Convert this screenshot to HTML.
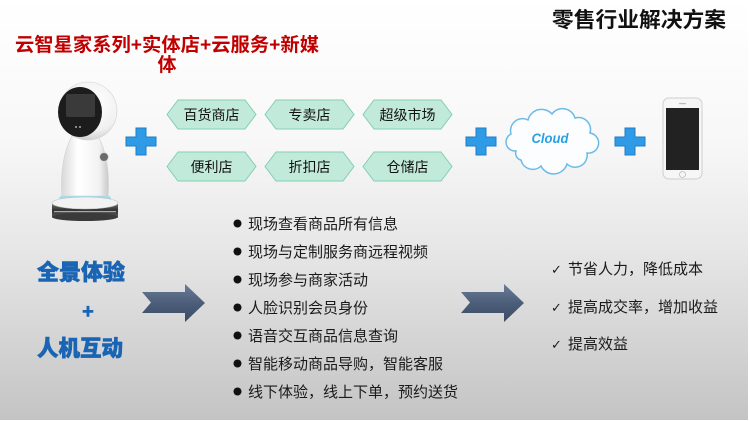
<!DOCTYPE html>
<html><head><meta charset="utf-8"><style>
html,body{margin:0;padding:0;width:750px;height:421px;overflow:hidden;background:#fff}
svg{display:block}
</style></head><body>
<svg width="750" height="421" viewBox="0 0 750 421" xmlns="http://www.w3.org/2000/svg">
<defs>
<linearGradient id="bg" x1="0" y1="0" x2="0" y2="1">
<stop offset="0" stop-color="#ffffff"/><stop offset="0.35" stop-color="#f7f7f7"/><stop offset="0.6" stop-color="#e6e6e6"/><stop offset="1" stop-color="#c4c4c4"/>
</linearGradient>
<linearGradient id="arr" x1="0" y1="0" x2="0" y2="1">
<stop offset="0" stop-color="#6a7c98"/><stop offset="0.5" stop-color="#4c5e7a"/><stop offset="1" stop-color="#3a4a64"/>
</linearGradient>
<radialGradient id="head" cx="0.6" cy="0.35" r="0.7">
<stop offset="0" stop-color="#ffffff"/><stop offset="0.7" stop-color="#f0f0f0"/><stop offset="1" stop-color="#c8c8c8"/>
</radialGradient>
<linearGradient id="body" x1="0" y1="0" x2="1" y2="0">
<stop offset="0" stop-color="#d8d8d8"/><stop offset="0.35" stop-color="#ffffff"/><stop offset="0.8" stop-color="#f2f2f2"/><stop offset="1" stop-color="#c9c9c9"/>
</linearGradient>
<linearGradient id="base" x1="0" y1="0" x2="0" y2="1">
<stop offset="0" stop-color="#777"/><stop offset="0.5" stop-color="#333"/><stop offset="1" stop-color="#555"/>
</linearGradient>
</defs>
<rect x="0" y="0" width="748" height="420" fill="url(#bg)"/>

<!-- Title -->
<text x="552" y="27" font-family="Liberation Sans, Noto Sans CJK SC, sans-serif" font-size="21" font-weight="bold" fill="#111" textLength="174" lengthAdjust="spacingAndGlyphs">零售行业解决方案</text>

<!-- Red title -->
<text x="15" y="51" font-family="Liberation Sans, Noto Sans CJK SC, sans-serif" font-size="19" font-weight="bold" fill="#c00000" textLength="304" lengthAdjust="spacingAndGlyphs">云智星家系列+实体店+云服务+新媒</text>
<text x="167" y="71" text-anchor="middle" font-family="Liberation Sans, Noto Sans CJK SC, sans-serif" font-size="19" font-weight="bold" fill="#c00000">体</text>

<!-- Robot -->
<ellipse cx="85" cy="198" rx="26" ry="5" fill="#9edcf0"/>
<path d="M72,136 C64,150 60,172 62,196 L108,196 C110,172 106,150 98,136 Z" fill="url(#body)" stroke="#d0d0d0" stroke-width="0.6"/>
<circle cx="104" cy="157" r="4.5" fill="#6a6a6a" stroke="#ddd" stroke-width="1"/>
<circle cx="88" cy="111" r="29" fill="url(#head)" stroke="#d4d4d4" stroke-width="0.6"/>
<ellipse cx="80" cy="112" rx="22" ry="25" fill="#1c1c1c"/>
<rect x="66" y="94" width="29" height="23" rx="2" fill="#3a3a3a"/>
<circle cx="76" cy="127" r="1" fill="#aaa"/><circle cx="80" cy="127" r="1" fill="#aaa"/>
<rect x="52" y="203" width="66" height="14" fill="url(#base)"/>
<ellipse cx="85" cy="217" rx="33" ry="4" fill="#3a3a3a"/>
<ellipse cx="85" cy="203" rx="33" ry="6" fill="#f2f2f2" stroke="#bdbdbd" stroke-width="0.6"/>
<rect x="54" y="211" width="62" height="1.2" fill="#aaa"/>

<!-- Plus signs -->
<g fill="#2f9be6" stroke="#1d7ec6" stroke-width="1">
<path d="M136,128 h10 v9 h10 v9 h-10 v9 h-10 v-9 h-10 v-9 h10 Z"/>
<path d="M476,128 h10 v9 h10 v9 h-10 v9 h-10 v-9 h-10 v-9 h10 Z"/>
<path d="M625,128 h10 v9 h10 v9 h-10 v9 h-10 v-9 h-10 v-9 h10 Z"/>
</g>

<!-- Hexagons -->
<g fill="#c2eadb" stroke="#84cdb3" stroke-width="1">
<polygon points="167,114.5 178,100 245,100 256,114.5 245,129 178,129"/>
<polygon points="265,114.5 276,100 343,100 354,114.5 343,129 276,129"/>
<polygon points="363,114.5 374,100 441,100 452,114.5 441,129 374,129"/>
<polygon points="167,166.5 178,152 245,152 256,166.5 245,181 178,181"/>
<polygon points="265,166.5 276,152 343,152 354,166.5 343,181 276,181"/>
<polygon points="363,166.5 374,152 441,152 452,166.5 441,181 374,181"/>
</g>
<g font-family="Liberation Sans, Noto Sans CJK SC, sans-serif" font-size="14" fill="#111" text-anchor="middle">
<text x="211.5" y="120">百货商店</text>
<text x="309.5" y="120">专卖店</text>
<text x="407.5" y="120">超级市场</text>
<text x="211.5" y="172">便利店</text>
<text x="309.5" y="172">折扣店</text>
<text x="407.5" y="172">仓储店</text>
</g>

<!-- Cloud -->
<path d="M516,151 A9,9 0 0 1 511,134 A12,12 0 0 1 528,120 A14,14 0 0 1 552,114 A13,13 0 0 1 575,118 A12,12 0 0 1 590,133 A10,10 0 0 1 587,153 A12,12 0 0 1 567,164 A14,14 0 0 1 541,166 A12,12 0 0 1 521,160 A7,7 0 0 1 516,151 Z" fill="#fbfdff" stroke="#6bbbe8" stroke-width="1.5"/>
<text x="550" y="143" text-anchor="middle" font-family="Liberation Sans, sans-serif" font-size="14" font-weight="bold" font-style="italic" fill="#2aa0e6" textLength="37" lengthAdjust="spacingAndGlyphs">Cloud</text>

<!-- Phone -->
<rect x="663" y="98" width="39" height="81" rx="6" fill="#f6f6f6" stroke="#cfcfcf" stroke-width="1"/>
<rect x="666" y="108" width="33" height="62" fill="#222"/>
<rect x="679" y="103" width="7" height="1.2" fill="#bbb"/>
<circle cx="682.5" cy="174.5" r="3" fill="none" stroke="#bbb" stroke-width="0.8"/>

<!-- Left blue text -->
<g font-family="Liberation Sans, Noto Sans CJK SC, sans-serif" font-weight="900" fill="#1a64b4" stroke="#1a64b4" stroke-width="0.6">
<text x="37" y="280" font-size="22" textLength="88" lengthAdjust="spacingAndGlyphs">全景体验</text>
<text x="88" y="318" font-size="20" text-anchor="middle">+</text>
<text x="37" y="356" font-size="22" textLength="86" lengthAdjust="spacingAndGlyphs">人机互动</text>
</g>

<!-- Arrows -->
<polygon points="142,292 185,292 185,284 205,303 185,322 185,313 142,313 151,302.5" fill="url(#arr)"/>
<polygon points="461,292 504,292 504,284 524,303 504,322 504,313 461,313 470,302.5" fill="url(#arr)"/>

<!-- Bullets -->
<g fill="#111">
<circle cx="237.5" cy="223.5" r="4"/>
<circle cx="237.5" cy="251.5" r="4"/>
<circle cx="237.5" cy="279.5" r="4"/>
<circle cx="237.5" cy="307.5" r="4"/>
<circle cx="237.5" cy="335.5" r="4"/>
<circle cx="237.5" cy="363.5" r="4"/>
<circle cx="237.5" cy="391.5" r="4"/>
</g>
<g font-family="Liberation Sans, Noto Sans CJK SC, sans-serif" font-size="15" fill="#1a1a1a">
<text x="248" y="229">现场查看商品所有信息</text>
<text x="248" y="257">现场与定制服务商远程视频</text>
<text x="248" y="285">现场参与商家活动</text>
<text x="248" y="313">人脸识别会员身份</text>
<text x="248" y="341">语音交互商品信息查询</text>
<text x="248" y="369">智能移动商品导购，智能客服</text>
<text x="248" y="397">线下体验，线上下单，预约送货</text>
</g>

<!-- Checklist -->
<g font-family="Liberation Sans, DejaVu Sans, Noto Sans CJK SC, sans-serif" font-size="15" fill="#1a1a1a">
<text x="551" y="274" font-size="13">✓</text><text x="568" y="274">节省人力，降低成本</text>
<text x="551" y="312" font-size="13">✓</text><text x="568" y="312">提高成交率，增加收益</text>
<text x="551" y="349" font-size="13">✓</text><text x="568" y="349">提高效益</text>
</g>
</svg>
</body></html>
